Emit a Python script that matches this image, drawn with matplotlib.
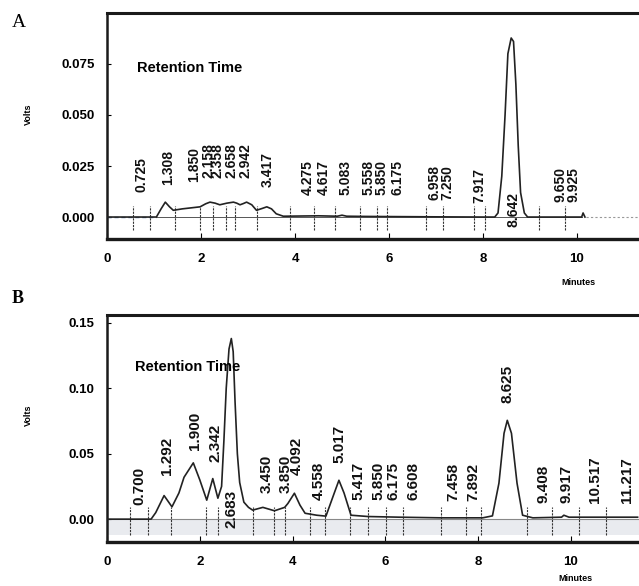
"""
Two HPLC chromatograms (A and B) with retention time labels.
"""

import matplotlib.pyplot as plt

# Panel A trace (minutes, volts).
time_a = [0, 1.05, 1.15, 1.24, 1.33, 1.41, 1.6, 1.98, 2.1, 2.19, 2.3, 2.4, 2.55,
          2.69, 2.76, 2.83, 2.9, 2.97, 3.08, 3.18, 3.3, 3.4, 3.5, 3.6, 3.75,
          4.5, 4.9, 5.0, 5.1, 5.5, 6.2, 7.0, 8.0, 8.25, 8.32, 8.4, 8.47, 8.53,
          8.6, 8.65, 8.7, 8.75, 8.8, 8.88, 8.95, 10.1, 10.13, 10.17]
volts_a = [0, 0, 0.004, 0.0073, 0.005, 0.0033, 0.004, 0.005, 0.0065, 0.0073,
           0.0068, 0.006, 0.0068, 0.0073, 0.0068, 0.006, 0.0066, 0.0073, 0.006,
           0.0033, 0.0042, 0.005, 0.004, 0.0016, 0.0004,
           0.0006, 0.0004, 0.0009, 0.0004, 0.0003, 0.0002, 0.0001, 0, 0, 0.002,
           0.02, 0.05, 0.08, 0.0877, 0.086, 0.065, 0.035, 0.012, 0.002, 0,
           0, 0.002, 0]
tail_a_t = [10.2, 11.35]
tail_a_v = [0, 0]

labels_a = ['0.725', '1.308', '1.850', '2.158', '2.358', '2.658', '2.942', '3.417',
            '4.275', '4.617', '5.083', '5.558', '5.850', '6.175', '6.958', '7.250',
            '7.917', '8.642', '9.650', '9.925']
label_y_a = [0.0123, 0.0157, 0.0172, 0.019, 0.019, 0.019, 0.019, 0.0147,
             0.0108, 0.0108, 0.0108, 0.0108, 0.0108, 0.0108, 0.0083, 0.0083,
             0.0069, -0.005, 0.0074, 0.0074]
marks_a = [0.55, 0.91, 1.45, 1.98, 2.26, 2.53, 2.72, 3.19, 3.89, 4.41, 4.85,
           5.38, 5.74, 5.96, 6.79, 7.15, 7.81, 8.04, 9.19, 9.74]

# Panel B trace (minutes, volts).
time_b = [0, 0.95, 1.05, 1.23, 1.4, 1.55, 1.66, 1.86, 2.0, 2.15, 2.28, 2.39,
          2.47, 2.52, 2.57, 2.63, 2.68, 2.72, 2.76, 2.81, 2.86, 2.95, 3.05,
          3.14, 3.36, 3.61, 3.83, 3.9, 4.04, 4.16, 4.27, 4.52, 4.72, 4.9, 5.0,
          5.11, 5.26, 5.63, 6.3, 7.2, 8.1, 8.31, 8.45, 8.56, 8.63, 8.72, 8.84,
          8.96, 9.18, 9.8, 9.85, 9.96, 11.44]
volts_b = [0, 0, 0.005, 0.018, 0.0094, 0.02, 0.032, 0.043, 0.03, 0.0145, 0.031,
           0.016, 0.025, 0.06, 0.1, 0.13, 0.138, 0.128, 0.09, 0.05, 0.028, 0.013,
           0.009, 0.0069, 0.009, 0.0064, 0.009, 0.012, 0.0198, 0.0107, 0.0045,
           0.003, 0.0023, 0.02, 0.0297, 0.02, 0.003, 0.002, 0.0015, 0.001, 0.001,
           0.0025, 0.0275, 0.0656, 0.0755, 0.0656, 0.0275, 0.003, 0.001, 0.0015,
           0.003, 0.0015, 0.0015]

labels_b = ['0.700', '1.292', '1.900', '2.342', '2.683', '3.450', '3.850', '4.092',
            '4.558', '5.017', '5.417', '5.850', '6.175', '6.608', '7.458', '7.892',
            '8.625', '9.408', '9.917', '10.517', '11.217']
label_y_b = [0.0107, 0.0336, 0.0527, 0.0435, -0.0069, 0.0199, 0.0199, 0.0336,
             0.0145, 0.0427, 0.0145, 0.0145, 0.0145, 0.0145, 0.0135, 0.0135,
             0.0885, 0.0122, 0.0122, 0.0122, 0.0122]
marks_b = [0.5, 0.89, 1.38, 2.13, 2.39, 3.14, 3.61, 3.83, 4.37, 4.7, 5.23,
           5.62, 6.02, 6.39, 7.2, 7.74, 8.06, 9.05, 9.6, 10.17, 10.75]

NARROW = ['Liberation Sans Narrow', 'Liberation Sans', 'DejaVu Sans']
SANS = ['Liberation Sans', 'DejaVu Sans']
SERIF = ['Liberation Serif', 'DejaVu Serif']


def style_axes(ax, yticks, fmt, xmax, ymin, ymax):
    ax.set_xlim(0, xmax)
    ax.set_ylim(ymin, ymax)
    ax.set_xticks([0, 2, 4, 6, 8, 10])
    ax.set_yticks(yticks)
    ax.set_yticklabels([fmt % v for v in yticks])
    for lab in ax.get_xticklabels() + ax.get_yticklabels():
        lab.set_family(NARROW)
        lab.set_fontweight('bold')
        lab.set_fontsize(9.5)
    ax.tick_params(axis='x', direction='in', length=4, width=0.8, pad=10)
    ax.tick_params(axis='y', direction='in', length=3, width=0.8, pad=9)
    ax.spines['right'].set_visible(False)
    ax.spines['top'].set_linewidth(2.2)
    ax.spines['bottom'].set_linewidth(2.4)
    ax.spines['left'].set_linewidth(1.8)
    for s in ax.spines.values():
        s.set_color('#1a1a1a')
    ax.patch.set_alpha(0)


def draw_panel(ax, t, v, labels, label_y, marks, size, lo, hi):
    ax.plot(t, v, color='#222222', lw=1.2, zorder=3)
    ax.vlines(marks, lo, hi, colors='#333333', lw=0.8, linestyles=(0, (2, 1)),
              zorder=2)
    for lab, ly in zip(labels, label_y):
        ax.text(float(lab), ly, lab, rotation=90, ha='center', va='bottom',
                family=NARROW, fontweight='bold', fontsize=size,
                color='#111111', zorder=4)


fig = plt.figure(figsize=(6.39, 5.86), dpi=100)

# Panel A
ax_a = fig.add_axes([0.1675, 0.592, 0.8325, 0.386])
ax_a.plot([0, 1.05], [0, 0], color='#5a78a8', lw=1.0, ls=(0, (3, 2)), zorder=2)
ax_a.plot(tail_a_t, tail_a_v, color='#999999', lw=0.8, ls=(0, (2, 2)))
ax_a.plot([1.05, 10.1], [0, 0], color='#555555', lw=0.7, zorder=2)
draw_panel(ax_a, time_a, volts_a, labels_a, label_y_a, marks_a, 10, -0.0065, 0.0055)
style_axes(ax_a, [0.0, 0.025, 0.05, 0.075], '%.3f', 11.32, -0.0108, 0.1)
ax_a.text(0.056, 0.757, 'Retention Time', transform=ax_a.transAxes, va='center',
          family=SANS, fontweight='bold', fontsize=10.5)
ax_a.set_ylabel('Volts', family=SANS, fontweight='bold', fontsize=6.5)
ax_a.yaxis.set_label_coords(-0.139, 0.55)
fig.text(0.905, 0.518, 'Minutes', family=SANS, fontweight='bold', fontsize=6.5,
         ha='center', va='center')
fig.text(0.018, 0.962, 'A', family=SERIF, fontsize=14, ha='left', va='center')

# Panel B
ax_b = fig.add_axes([0.1675, 0.075, 0.8325, 0.3875])
ax_b.axhspan(-0.012, 0, color='#e9ebef', zorder=0, lw=0)
ax_b.axhline(0, color='#888888', lw=0.8, zorder=1)
draw_panel(ax_b, time_b, volts_b, labels_b, label_y_b, marks_b, 11, -0.012, 0.009)
style_axes(ax_b, [0.0, 0.05, 0.10, 0.15], '%.2f', 11.47, -0.0175, 0.156)
ax_b.text(0.053, 0.77, 'Retention Time', transform=ax_b.transAxes, va='center',
          family=SANS, fontweight='bold', fontsize=10.5)
ax_b.set_ylabel('Volts', family=SANS, fontweight='bold', fontsize=6.5)
ax_b.yaxis.set_label_coords(-0.139, 0.56)
fig.text(0.9, 0.012, 'Minutes', family=SANS, fontweight='bold', fontsize=6.5,
         ha='center', va='center')
fig.text(0.018, 0.49, 'B', family=SERIF, fontweight='bold', fontsize=13,
         ha='left', va='center')

fig.savefig('out.png', dpi=100)
